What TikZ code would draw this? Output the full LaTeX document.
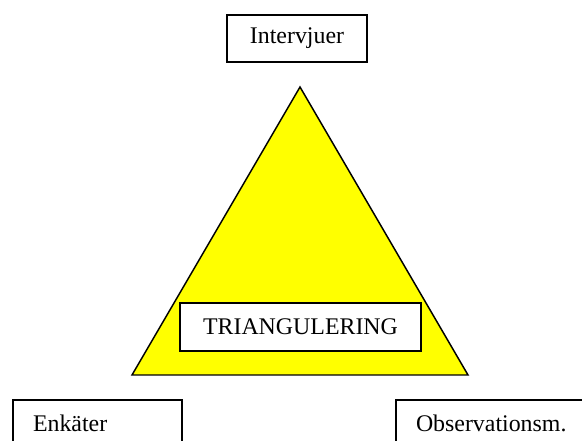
\documentclass[tikz,border=0pt]{standalone}
\usepackage{fontspec}
\setmainfont{Liberation Serif}
\usepackage{tikz}
\usetikzlibrary{positioning}
\definecolor{triYellow}{RGB}{255,255,0}

\begin{document}
\begin{tikzpicture}[x=0.75pt,y=-0.75pt,
  box/.style={draw,line width=1.5pt,fill=white,minimum height=35.25pt,inner sep=0pt,font=\fontsize{17.9}{20}\selectfont},
  side/.style={box,anchor=north west,align=left,inner xsep=15pt}
]
\useasboundingbox (0,0) rectangle (582,441);
\clip (0,0) rectangle (582,441);
\coordinate (top) at (300,87);
\coordinate (bl) at (132,375);
\coordinate (br) at (468,375);
\draw[fill=triYellow,line width=1.1pt] (top) -- (bl) -- (br) -- cycle;
\node[box,minimum width=105pt] (intervju) at (297,38.5) {Intervjuer};
\node[box,minimum width=180.75pt,minimum height=36pt] (triang) at (300.5,327) {TRIANGULERING};
\node[side,text width=96.5pt] (enkat) at (12,399) {Enkäter};
\node[side,text width=126pt] (obs) at (395,399) {Observationsm.};
\end{tikzpicture}
\end{document}
